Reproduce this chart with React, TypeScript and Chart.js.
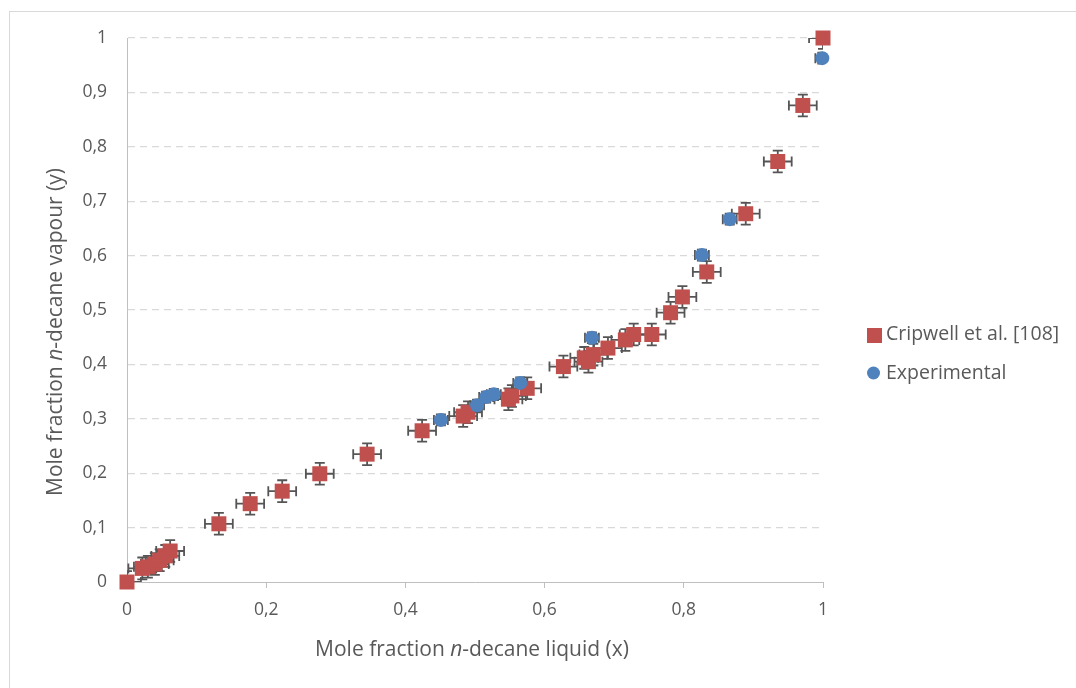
import React, { useEffect, useRef } from "react";
import { Chart, registerables } from "chart.js";

Chart.register(...registerables);

// Cripwell et al. [108] literature points: liquid (x) and vapour (y) mole fractions of n-decane
const cripwellX = [
  0, 0.022, 0.03, 0.04, 0.047, 0.055, 0.062, 0.132, 0.177, 0.223, 0.277, 0.345, 0.424,
  0.483, 0.49, 0.548, 0.553, 0.575, 0.627, 0.657, 0.663, 0.67, 0.691, 0.716, 0.728,
  0.754, 0.781, 0.798, 0.833, 0.889, 0.935, 0.971, 1.0,
];
const cripwellY = [
  0, 0.025, 0.028, 0.033, 0.04, 0.048, 0.057, 0.107, 0.144, 0.167, 0.199, 0.235, 0.278,
  0.305, 0.312, 0.336, 0.342, 0.356, 0.396, 0.412, 0.405, 0.418, 0.43, 0.445, 0.455,
  0.455, 0.495, 0.524, 0.57, 0.677, 0.773, 0.876, 1.0,
];

// Experimental points
const experimentalX = [0.451, 0.503, 0.516, 0.527, 0.565, 0.668, 0.826, 0.866, 0.999];
const experimentalY = [0.298, 0.325, 0.34, 0.345, 0.366, 0.449, 0.601, 0.667, 0.963];

// Uncertainty (± mole fraction) for each series
const cripwellErrX = 0.02;
const cripwellErrY = 0.02;
const experimentalErrX = 0.01;
const experimentalErrY = 0.01;

const seriesLabels = ["Cripwell et al. [108]", "Experimental"];
const xTitle = [
  { text: "Mole fraction ", italic: false },
  { text: "n", italic: true },
  { text: "-decane liquid (x)", italic: false },
];
const yTitle = [
  { text: "Mole fraction ", italic: false },
  { text: "n", italic: true },
  { text: "-decane vapour (y)", italic: false },
];

const RED = "#C0504D";
const BLUE = "#4F81BD";
const TEXT = "#595959";
const FONT = '"Open Sans", sans-serif';

const decimalComma = (v: number) => {
  const r = Math.round(v * 10) / 10;
  if (r === 0) return "0";
  if (r === 1) return "1";
  return r.toFixed(1).replace(".", ",");
};

const errorBarsPlugin = {
  id: "errorBars",
  beforeDatasetsDraw(chart: any) {
    const { ctx, chartArea, scales } = chart;
    const xs = scales.x;
    const ys = scales.y;
    const cap = 5;
    ctx.save();
    ctx.beginPath();
    ctx.rect(chartArea.left, chartArea.top, chartArea.right - chartArea.left, chartArea.bottom - chartArea.top);
    ctx.clip();
    ctx.strokeStyle = "#555555";
    ctx.lineWidth = 1.8;
    chart.data.datasets.forEach((ds: any) => {
      const ex = ds.errX;
      const ey = ds.errY;
      ds.data.forEach((p: any) => {
        const cx = xs.getPixelForValue(p.x);
        const cy = ys.getPixelForValue(p.y);
        const x0 = xs.getPixelForValue(p.x - ex);
        const x1 = xs.getPixelForValue(p.x + ex);
        const y0 = ys.getPixelForValue(p.y - ey);
        const y1 = ys.getPixelForValue(p.y + ey);
        ctx.beginPath();
        ctx.moveTo(x0, cy);
        ctx.lineTo(x1, cy);
        ctx.moveTo(x0, cy - cap);
        ctx.lineTo(x0, cy + cap);
        ctx.moveTo(x1, cy - cap);
        ctx.lineTo(x1, cy + cap);
        ctx.moveTo(cx, y0);
        ctx.lineTo(cx, y1);
        ctx.moveTo(cx - cap, y0);
        ctx.lineTo(cx + cap, y0);
        ctx.moveTo(cx - cap, y1);
        ctx.lineTo(cx + cap, y1);
        ctx.stroke();
      });
    });
    ctx.restore();
  },
};

type Seg = { text: string; italic: boolean };

const drawRichText = (ctx: CanvasRenderingContext2D, segs: Seg[], size: number) => {
  const fontFor = (s: Seg) => `${s.italic ? "italic " : ""}${size}px ${FONT}`;
  let total = 0;
  segs.forEach((s) => {
    ctx.font = fontFor(s);
    total += ctx.measureText(s.text).width;
  });
  let x = -total / 2;
  segs.forEach((s) => {
    ctx.font = fontFor(s);
    ctx.fillText(s.text, x, 0);
    x += ctx.measureText(s.text).width;
  });
};

const annotationsPlugin = {
  id: "titlesAndLegend",
  afterDraw(chart: any) {
    const { ctx, chartArea } = chart;
    ctx.save();
    ctx.fillStyle = TEXT;
    ctx.textAlign = "left";
    ctx.textBaseline = "middle";

    // x axis title
    ctx.save();
    ctx.translate((chartArea.left + chartArea.right) / 2 - 3, 650);
    drawRichText(ctx, xTitle, 21);
    ctx.restore();

    // y axis title
    ctx.save();
    ctx.translate(56, (chartArea.top + chartArea.bottom) / 2 + 22);
    ctx.rotate(-Math.PI / 2);
    drawRichText(ctx, yTitle, 21);
    ctx.restore();

    // legend
    const ds = chart.data.datasets;
    ctx.font = `19.5px ${FONT}`;
    ctx.fillStyle = ds[0].backgroundColor;
    ctx.fillRect(867, 328, 15, 15);
    ctx.fillStyle = TEXT;
    ctx.fillText(ds[0].label, 886, 334);
    ctx.fillStyle = ds[1].backgroundColor;
    ctx.beginPath();
    ctx.arc(873.5, 373, 6.5, 0, Math.PI * 2);
    ctx.fill();
    ctx.fillStyle = TEXT;
    ctx.fillText(ds[1].label, 886, 373);
    ctx.restore();
  },
};

export default function App() {
  const canvasRef = useRef<HTMLCanvasElement | null>(null);

  useEffect(() => {
    if (!canvasRef.current) return;
    const cripwell = cripwellX.map((x, i) => ({ x, y: cripwellY[i] }));
    const experimental = experimentalX.map((x, i) => ({ x, y: experimentalY[i] }));

    const chart = new Chart(canvasRef.current, {
      type: "scatter",
      data: {
        datasets: [
          {
            label: seriesLabels[0],
            data: cripwell,
            backgroundColor: RED,
            borderColor: RED,
            pointStyle: "rect",
            pointRadius: 10.6,
            pointBorderWidth: 0,
            order: 2,
            clip: false,
            errX: cripwellErrX,
            errY: cripwellErrY,
          } as any,
          {
            label: seriesLabels[1],
            data: experimental,
            backgroundColor: BLUE,
            borderColor: BLUE,
            pointStyle: "circle",
            pointRadius: 7,
            pointBorderWidth: 0,
            order: 1,
            clip: false,
            errX: experimentalErrX,
            errY: experimentalErrY,
          } as any,
        ],
      },
      options: {
        animation: false,
        responsive: false,
        events: [],
        layout: { padding: { top: 38, right: 253, left: 0, bottom: 0 } },
        plugins: {
          legend: { display: false },
          tooltip: { enabled: false },
        },
        scales: {
          x: {
            type: "linear",
            min: 0,
            max: 1,
            afterFit: (scale: any) => {
              scale.height = 106;
            },
            ticks: {
              stepSize: 0.2,
              color: TEXT,
              font: { family: FONT, size: 17.5 },
              padding: 12,
              callback: (v: any) => decimalComma(Number(v)),
            },
            grid: {
              drawOnChartArea: false,
              drawTicks: true,
              tickLength: 6,
              tickColor: "#bfbfbf",
              tickWidth: 1,
            },
            border: { color: "#bfbfbf", width: 1 },
          },
          y: {
            type: "linear",
            min: 0,
            max: 1,
            afterFit: (scale: any) => {
              scale.width = 127;
            },
            ticks: {
              stepSize: 0.1,
              color: TEXT,
              font: { family: FONT, size: 17.5 },
              padding: 20,
              callback: (v: any) => decimalComma(Number(v)),
            },
            grid: {
              drawTicks: false,
              color: (c: any) => (c.tick && c.tick.value === 0 ? "rgba(0,0,0,0)" : "#d9d9d9"),
              lineWidth: 1.2,
            },
            border: { color: "#bfbfbf", width: 1, dash: [7, 5] },
          },
        },
      },
      plugins: [errorBarsPlugin, annotationsPlugin],
    });
    return () => chart.destroy();
  }, []);

  return (
    <div style={{ position: "absolute", left: 0, top: 0, width: 1076, height: 688, background: "#fff" }}>
      <div
        style={{
          position: "absolute",
          left: 9,
          top: 11,
          width: 1067,
          height: 677,
          boxSizing: "border-box",
          borderTop: "1px solid #d9d9d9",
          borderLeft: "1px solid #d9d9d9",
        }}
      />
      <canvas
        ref={canvasRef}
        width={1076}
        height={688}
        style={{ position: "absolute", left: 0, top: 0, width: 1076, height: 688 }}
      />
    </div>
  );
}
